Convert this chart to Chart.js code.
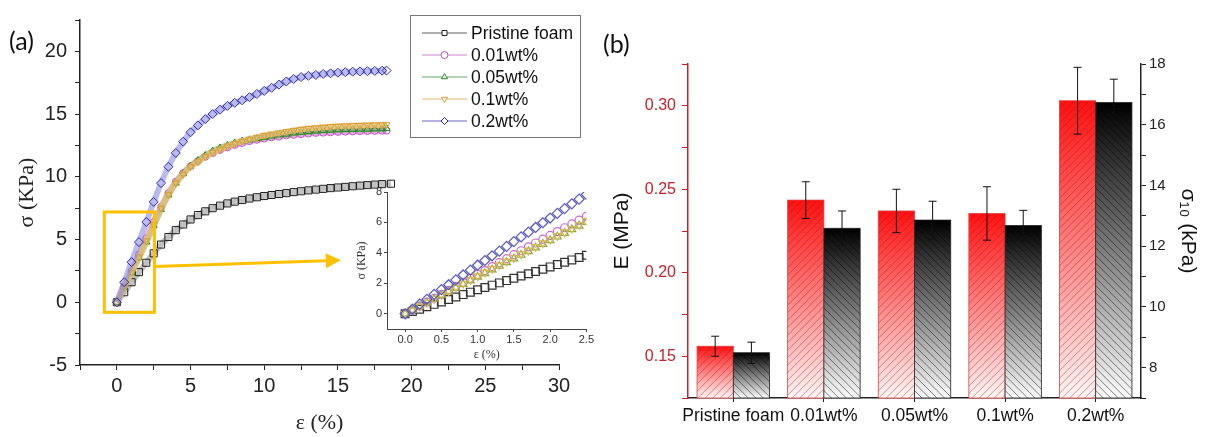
<!DOCTYPE html>
<html>
<head>
<meta charset="utf-8">
<script src="https://cdn.jsdelivr.net/npm/chart.js@4.4.1/dist/chart.umd.min.js"></script>
<style>
  html, body { margin: 0; padding: 0; background: #fff; }
  body { width: 1206px; height: 437px; position: relative; overflow: hidden; }
  .box { position: absolute; }
  .tag { position: absolute; font-family: Lato, 'Liberation Sans', sans-serif; font-size: 25px; color: #111; line-height: 30px; }
</style>
</head>
<body>
<div class="box" style="left:0;top:0;width:600px;height:437px"><canvas id="mainChart"></canvas></div>
<div class="box" style="left:340px;top:180px;width:255px;height:185px"><canvas id="insetChart"></canvas></div>
<div class="box" style="left:600px;top:0;width:606px;height:437px"><canvas id="barChart"></canvas></div>
<div class="tag" style="left:9px;top:25px">(a)</div>
<div class="tag" style="left:603px;top:28px">(b)</div>

<script>
// ---- data (a): stress-strain curves ----
const seriesNames = ['Pristine foam', '0.01wt%', '0.05wt%', '0.1wt%', '0.2wt%'];

const strainMain = [0, 0.5, 1, 1.5, 2, 2.5, 3, 3.5, 4, 4.5, 5, 5.5, 6, 6.5, 7, 7.5, 8, 8.5, 9, 9.5,
  10, 10.5, 11, 11.5, 12, 12.5, 13, 13.5, 14, 14.5, 15, 15.5, 16, 16.5, 17, 17.5, 18, 18.3];
const strainPristine = [0, 0.5, 1, 1.5, 2, 2.5, 3, 3.5, 4, 4.5, 5, 5.5, 6, 6.5, 7, 7.5, 8, 8.5, 9, 9.5,
  10, 10.5, 11, 11.5, 12, 12.5, 13, 13.5, 14, 14.5, 15, 15.5, 16, 16.5, 17, 17.5, 18, 18.6];

const stressPristine = [0, 0.8, 1.6, 2.4, 3.15, 3.9, 4.6, 5.2, 5.75, 6.2, 6.6, 6.95, 7.25, 7.5, 7.7, 7.88, 8.02, 8.15, 8.27, 8.37,
  8.47, 8.55, 8.63, 8.7, 8.78, 8.85, 8.92, 8.98, 9.04, 9.1, 9.15, 9.2, 9.25, 9.3, 9.34, 9.38, 9.42, 9.45];
const stress001 = [0, 1.25, 2.5, 3.8, 5.1, 6.4, 7.6, 8.7, 9.6, 10.3, 10.85, 11.25, 11.6, 11.9, 12.15, 12.35, 12.55, 12.7, 12.85, 12.95,
  13.05, 13.15, 13.2, 13.3, 13.35, 13.4, 13.45, 13.5, 13.52, 13.55, 13.58, 13.6, 13.62, 13.64, 13.65, 13.66, 13.67, 13.68];
const stress005 = [0, 1.2, 2.35, 3.55, 4.8, 6.1, 7.4, 8.55, 9.5, 10.25, 10.85, 11.3, 11.7, 12.05, 12.3, 12.5, 12.7, 12.85, 12.95, 13.05,
  13.15, 13.25, 13.35, 13.4, 13.5, 13.55, 13.6, 13.65, 13.7, 13.72, 13.75, 13.77, 13.78, 13.8, 13.8, 13.82, 13.83, 13.85];
const stress01 = [0, 1.2, 2.4, 3.6, 4.9, 6.2, 7.5, 8.6, 9.5, 10.2, 10.8, 11.2, 11.6, 11.95, 12.2, 12.45, 12.65, 12.85, 13.0, 13.15,
  13.3, 13.4, 13.5, 13.6, 13.7, 13.78, 13.85, 13.9, 13.95, 14.0, 14.03, 14.06, 14.08, 14.1, 14.12, 14.13, 14.15, 14.15];
const stress02 = [0, 1.6, 3.2, 4.8, 6.4, 8.0, 9.5, 10.8, 11.9, 12.8, 13.55, 14.1, 14.6, 15.0, 15.35, 15.65, 15.9, 16.1, 16.35, 16.6,
  16.85, 17.1, 17.35, 17.6, 17.8, 17.95, 18.05, 18.12, 18.2, 18.25, 18.3, 18.34, 18.38, 18.4, 18.42, 18.44, 18.46, 18.47];

// inset: first 2.5 % of strain
const strainInset = [0, 0.1, 0.2, 0.3, 0.4, 0.5, 0.6, 0.7, 0.8, 0.9, 1.0, 1.1, 1.2, 1.3, 1.4, 1.5, 1.6, 1.7, 1.8, 1.9,
  2.0, 2.1, 2.2, 2.3, 2.4, 2.5];
const insetPristine = [0, 0.15, 0.3, 0.46, 0.62, 0.78, 0.94, 1.1, 1.26, 1.42, 1.58, 1.73, 1.88, 2.03, 2.18, 2.33, 2.48, 2.63, 2.78, 2.93,
  3.08, 3.23, 3.39, 3.54, 3.7, 3.85];
const inset001 = [0, 0.25, 0.5, 0.76, 1.02, 1.28, 1.54, 1.8, 2.06, 2.32, 2.58, 2.84, 3.1, 3.36, 3.62, 3.88, 4.14, 4.4, 4.65, 4.9,
  5.15, 5.4, 5.65, 5.9, 6.15, 6.4];
const inset005 = [0, 0.24, 0.48, 0.72, 0.97, 1.22, 1.46, 1.7, 1.94, 2.18, 2.42, 2.66, 2.9, 3.14, 3.38, 3.62, 3.86, 4.1, 4.34, 4.58,
  4.82, 5.06, 5.3, 5.54, 5.78, 6.02];
const inset01 = [0, 0.24, 0.49, 0.74, 0.99, 1.24, 1.49, 1.74, 1.99, 2.24, 2.48, 2.72, 2.96, 3.2, 3.44, 3.68, 3.92, 4.16, 4.4, 4.64,
  4.88, 5.12, 5.36, 5.6, 5.85, 6.1];
const inset02 = [0, 0.31, 0.63, 0.95, 1.27, 1.59, 1.91, 2.23, 2.55, 2.87, 3.19, 3.5, 3.81, 4.12, 4.43, 4.74, 5.05, 5.36, 5.67, 5.98,
  6.29, 6.6, 6.91, 7.22, 7.53, 7.84];

// ---- data (b): modulus and stress at 10 % ----
const barCategories = ['Pristine foam', '0.01wt%', '0.05wt%', '0.1wt%', '0.2wt%'];
const modulusE = [0.156, 0.2435, 0.237, 0.2355, 0.303];
const modulusErr = [0.006, 0.011, 0.013, 0.016, 0.020];
const sigma10 = [8.49, 12.59, 12.86, 12.68, 16.73];
const sigma10Err = [0.35, 0.57, 0.62, 0.5, 0.77];

// zoom box and arrow in panel (a), in data units
const zoomBox = { x0: -0.85, x1: 2.55, y0: -0.8, y1: 7.2 };
const arrowFrom = { x: 2.55, y: 2.85 };
const arrowTo = { x: 15.2, y: 3.35 };

const sans = "'Liberation Sans', Arial, sans-serif";
const serif = "'Liberation Serif', 'Times New Roman', serif";

// band = thick line under the markers, like the dense markers of the original
const styles = [
  { band: 'rgba(120,120,120,0.45)', point: '#1e1e1e', shape: 'rect', r: 5, rot: 0, ir: 5.5, ipoint: '#333333', order: 5 },
  { band: 'rgba(215,110,215,0.55)', point: '#c050c0', shape: 'circle', r: 3.5, rot: 0, ir: 4, ipoint: '#cc66cc', order: 4 },
  { band: 'rgba(90,170,70,0.55)', point: '#208a20', shape: 'triangle', r: 4, rot: 0, ir: 4.5, ipoint: '#88aa44', order: 3 },
  { band: 'rgba(236,195,120,0.8)', point: '#d89a30', shape: 'triangle', r: 4, rot: 180, ir: 4.5, ipoint: '#d8b850', order: 2 },
  { band: 'rgba(140,140,225,0.6)', point: '#2626b0', shape: 'rectRot', r: 4.5, rot: 0, ir: 5, ipoint: '#5858c0', order: 1 }
];

const toXY = (xs, ys) => ys.map((v, i) => ({ x: xs[i], y: v }));
const mainSeries = [
  toXY(strainPristine, stressPristine), toXY(strainMain, stress001), toXY(strainMain, stress005),
  toXY(strainMain, stress01), toXY(strainMain, stress02)
];
const insetSeries = [
  toXY(strainInset, insetPristine), toXY(strainInset, inset001), toXY(strainInset, inset005),
  toXY(strainInset, inset01), toXY(strainInset, inset02)
];

// box, arrow and legend of panel (a)
const mainExtras = {
  id: 'mainExtras',
  afterDatasetsDraw(chart) {
    const { ctx, scales: { x, y } } = chart;
    ctx.save();
    ctx.strokeStyle = '#ffc000';
    ctx.fillStyle = '#ffc000';
    ctx.lineWidth = 3;
    const l = x.getPixelForValue(zoomBox.x0), r = x.getPixelForValue(zoomBox.x1);
    const t = y.getPixelForValue(zoomBox.y1), b = y.getPixelForValue(zoomBox.y0);
    ctx.strokeRect(l, t, r - l, b - t);
    const ax = x.getPixelForValue(arrowFrom.x), ay = y.getPixelForValue(arrowFrom.y);
    const bx = x.getPixelForValue(arrowTo.x), by = y.getPixelForValue(arrowTo.y);
    const ang = Math.atan2(by - ay, bx - ax), head = 15, hw = 7.5;
    const hx = bx - head * Math.cos(ang), hy = by - head * Math.sin(ang);
    ctx.beginPath(); ctx.moveTo(ax, ay); ctx.lineTo(hx, hy); ctx.stroke();
    ctx.beginPath();
    ctx.moveTo(bx, by);
    ctx.lineTo(hx - hw * Math.sin(ang), hy + hw * Math.cos(ang));
    ctx.lineTo(hx + hw * Math.sin(ang), hy - hw * Math.cos(ang));
    ctx.closePath(); ctx.fill();
    ctx.restore();
  },
  afterDraw(chart) {
    const ctx = chart.ctx;
    ctx.save();
    ctx.fillStyle = '#fff';
    ctx.fillRect(410, 15, 170, 122);
    ctx.strokeStyle = '#777';
    ctx.lineWidth = 1;
    ctx.strokeRect(410.5, 15.5, 170, 122);
    chart.data.datasets.forEach((ds, i) => {
      const yy = 33 + i * 22;
      ctx.strokeStyle = ds.pointBorderColor;
      ctx.globalAlpha = 0.7;
      ctx.lineWidth = 1;
      ctx.beginPath(); ctx.moveTo(422, yy); ctx.lineTo(467, yy); ctx.stroke();
      ctx.globalAlpha = 1;
      ctx.fillStyle = '#fff';
      Chart.helpers.drawPoint(ctx, { pointStyle: ds.pointStyle, radius: 3.5, rotation: ds.pointRotation || 0, borderWidth: 1 }, 444.5, yy);
      ctx.fillStyle = '#111';
      ctx.font = '17.5px ' + sans;
      ctx.textBaseline = 'middle';
      ctx.fillText(ds.label, 471, yy + 1);
    });
    ctx.restore();
  }
};

new Chart(document.getElementById('mainChart'), {
  type: 'line',
  data: {
    datasets: mainSeries.map((pts, i) => ({
      label: seriesNames[i],
      data: pts,
      order: styles[i].order,
      borderColor: styles[i].band,
      borderWidth: 6,
      pointStyle: styles[i].shape,
      pointRotation: styles[i].rot,
      pointRadius: styles[i].r,
      pointBorderColor: styles[i].point,
      pointBackgroundColor: 'rgba(255,255,255,0)',
      pointBorderWidth: 1,
      tension: 0.3
    }))
  },
  options: {
    responsive: true,
    maintainAspectRatio: false,
    animation: false,
    layout: { padding: { top: 10, right: 41, bottom: 0, left: 0 } },
    plugins: { legend: { display: false }, tooltip: { enabled: false } },
    scales: {
      x: {
        type: 'linear', min: -2.5, max: 30,
        ticks: { stepSize: 2.5, includeBounds: false, autoSkip: false, maxRotation: 0, padding: 4,
          callback: v => (v % 5 === 0 ? v : ''), color: '#222', font: { family: sans, size: 20 } },
        grid: { drawOnChartArea: false, tickLength: 5, tickColor: '#222' },
        border: { color: '#222', width: 1.5 },
        title: { display: true, text: 'ε (%)', color: '#222', font: { family: serif, size: 22 }, padding: { top: 0, bottom: 1 } },
        afterFit: s => { s.height = 72; }
      },
      y: {
        min: -5, max: 22.5,
        ticks: { stepSize: 2.5, includeBounds: false, padding: 8,
          callback: v => (v % 5 === 0 ? v : ''), color: '#222', font: { family: sans, size: 20 } },
        grid: { drawOnChartArea: false, tickLength: 5, tickColor: '#222' },
        border: { color: '#222', width: 1.5 },
        title: { display: true, text: 'σ (KPa)', color: '#222', font: { family: serif, size: 22 }, padding: { top: 14, bottom: 0 } },
        afterFit: s => { s.width = 80; }
      }
    }
  },
  plugins: [mainExtras]
});

new Chart(document.getElementById('insetChart'), {
  type: 'line',
  data: {
    datasets: insetSeries.map((pts, i) => ({
      label: seriesNames[i],
      data: pts,
      order: styles[i].order,
      showLine: false,
      pointStyle: styles[i].shape,
      pointRotation: styles[i].rot,
      pointRadius: styles[i].ir,
      pointBorderColor: styles[i].ipoint,
      pointBackgroundColor: 'rgba(255,255,255,0)',
      pointBorderWidth: 1.2
    }))
  },
  options: {
    responsive: true,
    maintainAspectRatio: false,
    animation: false,
    layout: { padding: { top: 12, right: 7, bottom: 0, left: 0 } },
    plugins: { legend: { display: false }, tooltip: { enabled: false } },
    scales: {
      x: {
        type: 'linear', min: -0.25, max: 2.5,
        ticks: { stepSize: 0.5, includeBounds: false, autoSkip: false, maxRotation: 0, padding: 1,
          callback: v => v.toFixed(1), color: '#333', font: { family: sans, size: 11 } },
        grid: { drawOnChartArea: false, tickLength: 3, tickColor: '#444' },
        border: { color: '#444', width: 1 },
        title: { display: true, text: 'ε (%)', color: '#333', font: { family: serif, size: 12 }, padding: { top: 0, bottom: 3 } },
        afterFit: s => { s.height = 36; }
      },
      y: {
        min: -1, max: 8,
        ticks: { stepSize: 2, includeBounds: false, padding: 2, color: '#333', font: { family: sans, size: 11 } },
        grid: { drawOnChartArea: false, tickLength: 3, tickColor: '#444' },
        border: { color: '#444', width: 1 },
        title: { display: true, text: 'σ (KPa)', color: '#333', font: { family: serif, size: 12 }, padding: { top: 15, bottom: 0 } },
        afterFit: s => { s.width = 47; }
      }
    }
  }
});

// gradient + hatch fill of the bars in panel (b)
function paintBar(ctx, left, top, right, bottom, kind) {
  const g = ctx.createLinearGradient(0, top, 0, bottom);
  if (kind === 'E') { g.addColorStop(0, '#ff1010'); g.addColorStop(1, '#fff6f6'); }
  else { g.addColorStop(0, '#000000'); g.addColorStop(1, '#fbfbfb'); }
  ctx.save();
  ctx.beginPath();
  ctx.rect(left, top, right - left, bottom - top);
  ctx.fillStyle = g;
  ctx.fill();
  ctx.clip();
  ctx.strokeStyle = kind === 'E' ? 'rgba(150,20,20,0.55)' : 'rgba(0,0,0,0.6)';
  ctx.lineWidth = 0.8;
  const h = bottom - top;
  ctx.beginPath();
  for (let s = left - h; s < right + h; s += 7.5) {
    if (kind === 'E') { ctx.moveTo(s, bottom); ctx.lineTo(s + h, top); }
    else { ctx.moveTo(s, top); ctx.lineTo(s + h, bottom); }
  }
  ctx.stroke();
  ctx.restore();
  ctx.save();
  ctx.strokeStyle = kind === 'E' ? '#e04040' : '#222';
  ctx.lineWidth = 0.8;
  ctx.strokeRect(left, top, right - left, bottom - top);
  ctx.restore();
}

const barPaint = {
  id: 'barPaint',
  afterDatasetsDraw(chart) {
    const ctx = chart.ctx;
    const floor = chart.chartArea.bottom;
    chart.data.datasets.forEach((ds, di) => {
      chart.getDatasetMeta(di).data.forEach(el => {
        paintBar(ctx, el.x - el.width / 2, el.y, el.x + el.width / 2, Math.min(el.base, floor), ds.fillKind);
      });
    });
    ctx.save();
    ctx.strokeStyle = '#111';
    ctx.lineWidth = 1;
    chart.data.datasets.forEach((ds, di) => {
      const sc = chart.scales[ds.yAxisID];
      chart.getDatasetMeta(di).data.forEach((el, i) => {
        const t = sc.getPixelForValue(ds.data[i] + ds.errors[i]);
        const b = sc.getPixelForValue(ds.data[i] - ds.errors[i]);
        ctx.beginPath();
        ctx.moveTo(el.x, t); ctx.lineTo(el.x, b);
        ctx.moveTo(el.x - 4, t); ctx.lineTo(el.x + 4, t);
        ctx.moveTo(el.x - 4, b); ctx.lineTo(el.x + 4, b);
        ctx.stroke();
      });
    });
    ctx.restore();
  },
  afterDraw(chart) {
    const ctx = chart.ctx;
    ctx.save();
    ctx.fillStyle = '#fff';
    ctx.fillRect(698, 64, 94, 64);
    ctx.strokeStyle = '#222';
    ctx.lineWidth = 1;
    ctx.strokeRect(698.5, 64.5, 94, 64);
    paintBar(ctx, 706, 68, 753, 93, 'E');
    paintBar(ctx, 706, 97, 753, 120, 'S');
    ctx.fillStyle = '#111';
    ctx.textBaseline = 'middle';
    ctx.font = '22px ' + sans;
    ctx.fillText('E', 759, 81);
    ctx.font = '22px ' + serif;
    ctx.fillText('σ', 759, 107);
    ctx.font = '13px ' + serif;
    ctx.fillText('10', 773, 119);
    ctx.restore();
  }
};

new Chart(document.getElementById('barChart'), {
  type: 'bar',
  data: {
    labels: barCategories,
    datasets: [
      { label: 'E', data: modulusE, errors: modulusErr, fillKind: 'E', yAxisID: 'yE',
        backgroundColor: 'rgba(0,0,0,0)', borderWidth: 0, categoryPercentage: 0.8, barPercentage: 1 },
      { label: 'σ10', data: sigma10, errors: sigma10Err, fillKind: 'S', yAxisID: 'ySig',
        backgroundColor: 'rgba(0,0,0,0)', borderWidth: 0, categoryPercentage: 0.8, barPercentage: 1 }
    ]
  },
  options: {
    responsive: true,
    maintainAspectRatio: false,
    animation: false,
    layout: { padding: { top: 64, right: 0, bottom: 0, left: 0 } },
    plugins: { legend: { display: false }, tooltip: { enabled: false } },
    scales: {
      x: {
        ticks: { autoSkip: false, maxRotation: 0, padding: 4, color: '#111', font: { family: sans, size: 17.5 } },
        grid: { offset: false, drawOnChartArea: false, tickLength: 4, tickColor: '#222' },
        border: { color: '#222', width: 1.5 },
        afterFit: s => { s.height = 39; }
      },
      yE: {
        position: 'left', min: 0.125, max: 0.325,
        ticks: { stepSize: 0.025, includeBounds: false, padding: 6, color: '#c8202a', font: { family: sans, size: 16 },
          callback: v => (Math.round(v * 100) % 5 === 0 ? v.toFixed(2) : '') },
        grid: { drawOnChartArea: false, tickLength: 6, tickColor: '#c8202a' },
        border: { color: '#c8202a', width: 1.5 },
        title: { display: true, text: 'E (MPa)', color: '#111', font: { family: sans, size: 21 }, padding: { top: 10, bottom: 0 } },
        afterFit: s => { s.width = 88; }
      },
      ySig: {
        position: 'right', min: 7, max: 18,
        ticks: { stepSize: 1, includeBounds: false, padding: 3, color: '#222', font: { family: sans, size: 15 },
          callback: v => (v % 2 === 0 ? v : '') },
        grid: { drawOnChartArea: false, tickLength: 5, tickColor: '#222' },
        border: { color: '#222', width: 1.5 },
        title: { display: true, text: 'σ₁₀ (kPa)', color: '#111', font: { family: sans, size: 21 }, padding: { top: 6, bottom: 0 } },
        afterFit: s => { s.width = 65; }
      }
    }
  },
  plugins: [barPaint]
});
</script>
</body>
</html>
